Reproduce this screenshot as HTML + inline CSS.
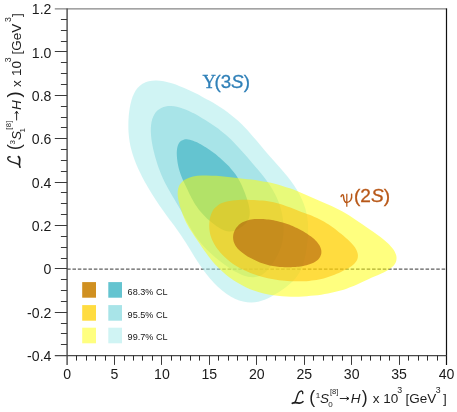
<!DOCTYPE html><html><head><meta charset="utf-8"><style>html,body{margin:0;padding:0;background:#fff}body{width:457px;height:412px;overflow:hidden}</style></head><body><svg width="457" height="412" viewBox="0 0 457 412" style="display:block;will-change:transform;font-family:'Liberation Sans',sans-serif">
<defs><filter id="ga" x="-5%" y="-5%" width="110%" height="110%" filterUnits="objectBoundingBox"><feOffset dx="0" dy="0"/></filter></defs>
<rect width="457" height="412" fill="#fff"/>
<line x1="67.10" y1="269.05" x2="446.50" y2="269.05" stroke="#5e5e5e" stroke-width="1.15" stroke-dasharray="3.55,1.8"/>
<path d="M171.45,222.07 C173.12,224.33 174.78,226.54 176.43,228.83 C178.07,231.13 179.69,233.41 181.32,235.83 C182.96,238.24 184.55,240.71 186.21,243.33 C187.88,245.95 189.53,248.69 191.30,251.54 C193.07,254.39 194.88,257.41 196.85,260.44 C198.82,263.46 200.89,266.64 203.11,269.70 C205.34,272.77 207.71,275.91 210.20,278.80 C212.69,281.69 215.34,284.55 218.04,287.06 C220.74,289.56 223.58,291.90 226.39,293.85 C229.20,295.80 232.10,297.46 234.90,298.75 C237.70,300.03 240.52,300.96 243.20,301.58 C245.89,302.20 248.52,302.45 251.01,302.47 C253.51,302.49 255.89,302.16 258.17,301.71 C260.44,301.25 262.58,300.52 264.64,299.74 C266.70,298.95 268.64,297.98 270.53,297.00 C272.42,296.02 274.22,294.93 275.99,293.85 C277.77,292.77 279.48,291.65 281.17,290.50 C282.86,289.35 284.52,288.20 286.13,286.97 C287.75,285.74 289.34,284.49 290.84,283.12 C292.34,281.74 293.81,280.31 295.14,278.72 C296.48,277.14 297.73,275.44 298.85,273.61 C299.96,271.77 300.95,269.79 301.81,267.71 C302.68,265.64 303.40,263.41 304.04,261.14 C304.68,258.86 305.18,256.48 305.65,254.06 C306.11,251.65 306.49,249.17 306.82,246.65 C307.16,244.14 307.46,241.59 307.68,238.97 C307.89,236.35 308.09,233.69 308.13,230.94 C308.16,228.18 308.15,225.35 307.89,222.43 C307.63,219.51 307.25,216.48 306.57,213.41 C305.89,210.33 304.99,207.14 303.82,203.98 C302.65,200.83 301.19,197.59 299.54,194.46 C297.89,191.33 295.94,188.19 293.92,185.20 C291.91,182.21 289.66,179.30 287.45,176.52 C285.24,173.74 282.91,171.09 280.67,168.52 C278.44,165.95 276.19,163.52 274.04,161.10 C271.90,158.68 269.82,156.36 267.79,154.02 C265.75,151.67 263.81,149.36 261.86,147.04 C259.90,144.71 258.01,142.37 256.05,140.06 C254.10,137.74 252.16,135.41 250.14,133.15 C248.12,130.89 246.07,128.64 243.96,126.49 C241.85,124.35 239.67,122.26 237.47,120.29 C235.26,118.31 233.00,116.43 230.72,114.65 C228.45,112.87 226.13,111.20 223.81,109.59 C221.49,107.99 219.14,106.49 216.79,105.03 C214.43,103.56 212.07,102.18 209.68,100.82 C207.30,99.47 204.90,98.16 202.47,96.88 C200.04,95.59 197.59,94.34 195.10,93.11 C192.61,91.89 190.09,90.68 187.53,89.53 C184.96,88.38 182.36,87.24 179.73,86.21 C177.10,85.18 174.41,84.18 171.75,83.36 C169.08,82.55 166.37,81.80 163.74,81.31 C161.11,80.83 158.46,80.48 155.96,80.46 C153.47,80.44 151.02,80.64 148.78,81.19 C146.55,81.73 144.43,82.58 142.55,83.72 C140.68,84.87 139.00,86.35 137.54,88.05 C136.08,89.75 134.86,91.78 133.82,93.92 C132.77,96.06 131.96,98.45 131.27,100.88 C130.57,103.32 130.07,105.91 129.65,108.51 C129.22,111.11 128.93,113.79 128.72,116.48 C128.50,119.18 128.38,121.90 128.36,124.66 C128.34,127.43 128.41,130.22 128.62,133.06 C128.83,135.90 129.15,138.78 129.64,141.70 C130.14,144.62 130.77,147.60 131.57,150.58 C132.37,153.56 133.34,156.59 134.43,159.58 C135.52,162.56 136.78,165.57 138.10,168.50 C139.42,171.43 140.87,174.34 142.34,177.17 C143.81,180.01 145.37,182.78 146.92,185.49 C148.48,188.20 150.07,190.85 151.67,193.43 C153.27,196.02 154.88,198.54 156.51,201.02 C158.13,203.49 159.78,205.91 161.43,208.28 C163.08,210.66 164.76,212.98 166.43,215.27 C168.10,217.57 169.79,219.81 171.45,222.07Z" fill="#a1e9e9" fill-opacity="0.5"/>
<path d="M182.54,213.58 C183.61,215.55 184.66,217.55 185.77,219.59 C186.88,221.63 188.00,223.73 189.21,225.83 C190.42,227.93 191.68,230.07 193.03,232.18 C194.39,234.28 195.82,236.39 197.33,238.43 C198.84,240.47 200.44,242.48 202.08,244.39 C203.73,246.31 205.46,248.16 207.22,249.94 C208.98,251.71 210.79,253.40 212.63,255.05 C214.47,256.69 216.35,258.26 218.26,259.80 C220.16,261.33 222.10,262.82 224.06,264.26 C226.02,265.69 228.02,267.09 230.03,268.39 C232.04,269.69 234.09,270.95 236.11,272.04 C238.14,273.12 240.20,274.13 242.20,274.90 C244.19,275.68 246.19,276.30 248.09,276.67 C249.98,277.05 251.84,277.20 253.57,277.13 C255.29,277.06 256.94,276.73 258.45,276.23 C259.97,275.74 261.37,274.99 262.67,274.15 C263.97,273.32 265.14,272.27 266.26,271.20 C267.37,270.13 268.38,268.92 269.35,267.71 C270.33,266.51 271.23,265.24 272.11,263.96 C272.99,262.69 273.83,261.39 274.64,260.07 C275.45,258.74 276.24,257.41 276.98,256.02 C277.71,254.62 278.42,253.21 279.06,251.72 C279.70,250.23 280.30,248.69 280.81,247.07 C281.32,245.45 281.77,243.77 282.14,242.02 C282.51,240.27 282.80,238.45 283.01,236.56 C283.22,234.68 283.36,232.73 283.41,230.73 C283.46,228.73 283.43,226.66 283.31,224.55 C283.19,222.43 282.99,220.26 282.66,218.04 C282.34,215.81 281.92,213.53 281.36,211.22 C280.80,208.91 280.13,206.54 279.31,204.17 C278.48,201.80 277.52,199.39 276.42,197.02 C275.33,194.65 274.08,192.26 272.75,189.94 C271.43,187.63 269.95,185.34 268.45,183.14 C266.95,180.94 265.34,178.81 263.75,176.75 C262.15,174.69 260.50,172.71 258.90,170.79 C257.29,168.86 255.68,167.02 254.10,165.20 C252.52,163.37 250.98,161.61 249.44,159.84 C247.91,158.08 246.41,156.34 244.89,154.60 C243.38,152.87 241.89,151.14 240.37,149.43 C238.84,147.73 237.31,146.03 235.75,144.38 C234.19,142.73 232.60,141.10 230.98,139.54 C229.37,137.98 227.72,136.46 226.05,135.02 C224.39,133.58 222.70,132.20 221.00,130.88 C219.30,129.56 217.58,128.30 215.85,127.08 C214.12,125.85 212.38,124.68 210.62,123.52 C208.86,122.36 207.09,121.23 205.29,120.11 C203.49,118.98 201.66,117.87 199.81,116.79 C197.96,115.71 196.07,114.62 194.16,113.62 C192.26,112.61 190.31,111.62 188.37,110.74 C186.43,109.87 184.45,109.04 182.51,108.38 C180.56,107.71 178.60,107.13 176.70,106.74 C174.80,106.35 172.91,106.09 171.12,106.03 C169.32,105.97 167.56,106.08 165.92,106.39 C164.29,106.70 162.72,107.20 161.29,107.90 C159.87,108.61 158.55,109.51 157.39,110.60 C156.23,111.69 155.20,112.98 154.34,114.44 C153.48,115.89 152.78,117.54 152.24,119.31 C151.70,121.08 151.32,123.03 151.09,125.05 C150.86,127.07 150.80,129.23 150.84,131.41 C150.88,133.59 151.07,135.87 151.34,138.14 C151.60,140.41 151.98,142.72 152.41,145.01 C152.84,147.29 153.35,149.59 153.90,151.85 C154.44,154.12 155.04,156.37 155.69,158.61 C156.33,160.84 157.02,163.05 157.76,165.25 C158.50,167.45 159.29,169.63 160.14,171.79 C161.00,173.96 161.91,176.11 162.88,178.22 C163.84,180.34 164.88,182.44 165.94,184.50 C167.01,186.56 168.14,188.59 169.26,190.58 C170.39,192.57 171.55,194.51 172.69,196.43 C173.83,198.36 174.97,200.24 176.08,202.13 C177.19,204.03 178.28,205.89 179.36,207.80 C180.44,209.70 181.48,211.61 182.54,213.58Z" fill="#80d4dc" fill-opacity="0.5"/>
<path d="M192.30,199.32 C192.92,200.45 193.55,201.60 194.23,202.73 C194.91,203.86 195.62,205.00 196.38,206.12 C197.14,207.23 197.93,208.34 198.76,209.41 C199.59,210.49 200.47,211.54 201.36,212.57 C202.25,213.59 203.18,214.58 204.12,215.55 C205.07,216.52 206.03,217.46 207.02,218.38 C208.00,219.30 209.01,220.20 210.02,221.07 C211.04,221.94 212.08,222.80 213.14,223.62 C214.19,224.44 215.26,225.25 216.34,225.99 C217.42,226.74 218.53,227.45 219.62,228.08 C220.72,228.71 221.83,229.29 222.91,229.76 C224.00,230.23 225.09,230.63 226.13,230.90 C227.18,231.18 228.21,231.36 229.19,231.43 C230.17,231.50 231.12,231.46 232.02,231.34 C232.91,231.22 233.76,230.99 234.58,230.72 C235.39,230.45 236.15,230.09 236.90,229.71 C237.64,229.34 238.34,228.91 239.04,228.48 C239.74,228.05 240.41,227.59 241.08,227.12 C241.74,226.65 242.40,226.18 243.05,225.67 C243.69,225.16 244.33,224.65 244.94,224.08 C245.54,223.50 246.14,222.91 246.67,222.23 C247.20,221.56 247.70,220.84 248.11,220.03 C248.52,219.22 248.88,218.34 249.14,217.38 C249.40,216.42 249.57,215.38 249.66,214.29 C249.74,213.20 249.72,212.03 249.64,210.84 C249.55,209.64 249.36,208.39 249.13,207.14 C248.90,205.89 248.58,204.60 248.25,203.33 C247.91,202.06 247.52,200.78 247.12,199.52 C246.72,198.26 246.29,197.01 245.85,195.77 C245.41,194.53 244.95,193.30 244.49,192.08 C244.02,190.86 243.54,189.65 243.04,188.44 C242.53,187.23 242.01,186.02 241.45,184.82 C240.89,183.62 240.31,182.43 239.68,181.25 C239.05,180.06 238.38,178.89 237.67,177.74 C236.97,176.59 236.22,175.46 235.44,174.36 C234.66,173.27 233.84,172.20 233.01,171.16 C232.18,170.13 231.32,169.13 230.45,168.16 C229.59,167.20 228.70,166.27 227.82,165.37 C226.94,164.46 226.05,163.59 225.16,162.74 C224.27,161.88 223.38,161.05 222.49,160.24 C221.59,159.42 220.70,158.63 219.80,157.84 C218.90,157.06 218.00,156.29 217.09,155.54 C216.18,154.78 215.26,154.04 214.33,153.32 C213.41,152.60 212.47,151.90 211.52,151.21 C210.58,150.52 209.62,149.85 208.65,149.20 C207.68,148.54 206.70,147.91 205.71,147.28 C204.71,146.65 203.70,146.04 202.67,145.44 C201.65,144.85 200.60,144.26 199.54,143.70 C198.48,143.14 197.40,142.59 196.31,142.09 C195.23,141.60 194.11,141.12 193.02,140.73 C191.93,140.35 190.81,140.00 189.74,139.77 C188.68,139.54 187.61,139.38 186.61,139.36 C185.61,139.34 184.63,139.43 183.75,139.65 C182.87,139.88 182.04,140.24 181.31,140.72 C180.59,141.20 179.95,141.83 179.40,142.55 C178.86,143.27 178.41,144.13 178.05,145.04 C177.68,145.95 177.42,146.98 177.22,148.03 C177.02,149.08 176.91,150.21 176.84,151.34 C176.78,152.47 176.78,153.65 176.82,154.81 C176.85,155.98 176.94,157.17 177.05,158.35 C177.17,159.53 177.32,160.71 177.50,161.90 C177.68,163.08 177.89,164.26 178.13,165.44 C178.38,166.62 178.66,167.80 178.97,168.98 C179.29,170.16 179.64,171.34 180.03,172.51 C180.42,173.68 180.84,174.85 181.29,176.01 C181.74,177.17 182.22,178.32 182.71,179.45 C183.20,180.59 183.72,181.71 184.24,182.82 C184.75,183.93 185.28,185.02 185.80,186.11 C186.33,187.21 186.85,188.28 187.37,189.37 C187.89,190.46 188.41,191.54 188.94,192.63 C189.48,193.73 190.00,194.83 190.57,195.95 C191.13,197.06 191.69,198.19 192.30,199.32Z" fill="#20a4b8" fill-opacity="0.5"/>
<path d="M296.97,191.08 C294.61,190.15 292.21,189.22 289.78,188.36 C287.34,187.49 284.86,186.66 282.36,185.90 C279.85,185.14 277.31,184.42 274.75,183.78 C272.19,183.14 269.60,182.56 267.01,182.04 C264.42,181.52 261.82,181.08 259.20,180.67 C256.58,180.26 253.97,179.93 251.31,179.60 C248.65,179.26 245.99,178.98 243.25,178.67 C240.51,178.37 237.74,178.07 234.85,177.75 C231.96,177.44 228.99,177.09 225.92,176.77 C222.85,176.46 219.63,176.10 216.42,175.87 C213.21,175.64 209.84,175.41 206.65,175.40 C203.45,175.40 200.17,175.48 197.24,175.86 C194.31,176.23 191.46,176.80 189.08,177.65 C186.70,178.50 184.59,179.63 182.94,180.95 C181.30,182.28 180.08,183.90 179.21,185.60 C178.34,187.30 177.95,189.24 177.74,191.17 C177.53,193.09 177.72,195.15 177.95,197.15 C178.19,199.15 178.67,201.19 179.16,203.16 C179.64,205.14 180.23,207.09 180.83,209.01 C181.44,210.92 182.09,212.80 182.80,214.65 C183.51,216.51 184.26,218.34 185.10,220.16 C185.94,221.97 186.85,223.77 187.83,225.55 C188.81,227.33 189.88,229.09 190.97,230.83 C192.06,232.57 193.22,234.29 194.36,236.00 C195.50,237.71 196.67,239.39 197.82,241.09 C198.98,242.79 200.12,244.47 201.29,246.18 C202.45,247.89 203.60,249.60 204.83,251.34 C206.06,253.08 207.31,254.83 208.67,256.60 C210.03,258.37 211.45,260.16 213.01,261.95 C214.57,263.74 216.22,265.54 218.01,267.33 C219.80,269.12 221.70,270.92 223.75,272.68 C225.79,274.44 227.97,276.20 230.28,277.88 C232.60,279.57 235.05,281.23 237.64,282.78 C240.22,284.33 242.96,285.83 245.78,287.16 C248.61,288.50 251.58,289.74 254.58,290.80 C257.57,291.86 260.69,292.78 263.76,293.54 C266.84,294.29 269.97,294.88 273.02,295.34 C276.07,295.81 279.12,296.11 282.07,296.33 C285.03,296.56 287.93,296.65 290.74,296.70 C293.56,296.75 296.31,296.71 298.99,296.64 C301.67,296.57 304.27,296.43 306.82,296.26 C309.36,296.08 311.84,295.86 314.26,295.60 C316.68,295.33 319.04,295.02 321.34,294.66 C323.64,294.31 325.88,293.91 328.07,293.48 C330.26,293.05 332.40,292.58 334.50,292.07 C336.60,291.57 338.65,291.04 340.66,290.46 C342.67,289.89 344.64,289.28 346.56,288.63 C348.48,287.97 350.35,287.28 352.18,286.54 C354.02,285.81 355.79,285.02 357.57,284.22 C359.35,283.42 361.07,282.58 362.88,281.74 C364.68,280.91 366.48,280.05 368.39,279.20 C370.31,278.34 372.31,277.50 374.38,276.61 C376.46,275.72 378.69,274.84 380.84,273.84 C382.98,272.84 385.29,271.82 387.27,270.61 C389.24,269.40 391.25,268.09 392.70,266.60 C394.16,265.10 395.40,263.43 396.00,261.64 C396.60,259.85 396.74,257.86 396.30,255.84 C395.87,253.82 394.81,251.65 393.41,249.55 C392.00,247.44 389.98,245.27 387.87,243.21 C385.77,241.16 383.22,239.13 380.77,237.21 C378.32,235.29 375.67,233.45 373.18,231.69 C370.69,229.93 368.20,228.26 365.83,226.64 C363.45,225.01 361.17,223.45 358.91,221.93 C356.64,220.41 354.47,218.93 352.24,217.50 C350.01,216.07 347.79,214.68 345.53,213.36 C343.26,212.03 340.95,210.76 338.63,209.55 C336.30,208.34 333.93,207.19 331.59,206.09 C329.24,204.98 326.88,203.94 324.55,202.91 C322.22,201.87 319.91,200.88 317.62,199.89 C315.32,198.89 313.07,197.90 310.79,196.92 C308.51,195.93 306.25,194.94 303.94,193.97 C301.64,192.99 299.33,192.01 296.97,191.08Z" fill="#ffff00" fill-opacity="0.5"/>
<path d="M289.69,207.28 C288.00,206.64 286.28,205.98 284.52,205.39 C282.76,204.79 280.96,204.20 279.13,203.69 C277.31,203.17 275.44,202.70 273.56,202.30 C271.69,201.90 269.79,201.57 267.89,201.28 C265.99,201.00 264.09,200.79 262.18,200.61 C260.27,200.42 258.36,200.29 256.43,200.18 C254.50,200.06 252.56,199.98 250.59,199.92 C248.63,199.86 246.64,199.82 244.64,199.82 C242.64,199.82 240.61,199.84 238.61,199.94 C236.60,200.04 234.57,200.18 232.63,200.43 C230.69,200.69 228.76,201.01 226.97,201.46 C225.19,201.91 223.47,202.46 221.93,203.12 C220.39,203.78 218.98,204.57 217.74,205.44 C216.51,206.31 215.45,207.29 214.53,208.33 C213.62,209.36 212.89,210.49 212.26,211.63 C211.64,212.78 211.17,213.99 210.78,215.19 C210.38,216.40 210.11,217.64 209.88,218.87 C209.65,220.11 209.51,221.35 209.41,222.60 C209.31,223.84 209.26,225.09 209.28,226.34 C209.30,227.60 209.37,228.86 209.52,230.12 C209.67,231.38 209.88,232.66 210.17,233.93 C210.47,235.21 210.85,236.49 211.31,237.77 C211.77,239.05 212.32,240.34 212.95,241.62 C213.58,242.90 214.30,244.18 215.08,245.45 C215.87,246.72 216.74,247.99 217.67,249.24 C218.61,250.49 219.61,251.73 220.69,252.96 C221.77,254.18 222.92,255.40 224.15,256.59 C225.37,257.78 226.67,258.95 228.04,260.09 C229.42,261.23 230.87,262.35 232.39,263.42 C233.91,264.49 235.51,265.52 237.17,266.51 C238.82,267.49 240.55,268.44 242.32,269.32 C244.08,270.21 245.91,271.05 247.75,271.83 C249.59,272.62 251.48,273.35 253.37,274.03 C255.26,274.71 257.19,275.34 259.10,275.92 C261.02,276.50 262.95,277.03 264.88,277.52 C266.81,278.00 268.74,278.44 270.66,278.83 C272.58,279.21 274.50,279.55 276.40,279.85 C278.30,280.14 280.20,280.38 282.07,280.58 C283.95,280.78 285.81,280.94 287.65,281.06 C289.49,281.18 291.32,281.26 293.12,281.31 C294.93,281.36 296.72,281.37 298.49,281.36 C300.26,281.34 302.02,281.30 303.77,281.23 C305.51,281.15 307.25,281.05 308.96,280.91 C310.67,280.77 312.37,280.59 314.04,280.37 C315.71,280.14 317.35,279.87 318.96,279.55 C320.56,279.24 322.13,278.87 323.66,278.46 C325.19,278.04 326.68,277.58 328.15,277.09 C329.61,276.60 331.03,276.06 332.46,275.50 C333.88,274.95 335.28,274.36 336.69,273.76 C338.11,273.16 339.53,272.54 340.95,271.88 C342.38,271.23 343.83,270.56 345.25,269.83 C346.66,269.10 348.10,268.35 349.43,267.51 C350.75,266.67 352.07,265.78 353.18,264.80 C354.29,263.82 355.33,262.76 356.08,261.62 C356.84,260.48 357.42,259.24 357.71,257.96 C357.99,256.68 358.03,255.31 357.79,253.93 C357.56,252.55 357.03,251.11 356.31,249.70 C355.60,248.30 354.59,246.87 353.51,245.49 C352.42,244.11 351.11,242.75 349.80,241.44 C348.48,240.13 347.04,238.86 345.64,237.64 C344.24,236.41 342.79,235.23 341.38,234.08 C339.97,232.93 338.58,231.82 337.18,230.73 C335.79,229.64 334.42,228.58 333.02,227.54 C331.61,226.50 330.21,225.49 328.74,224.52 C327.28,223.54 325.79,222.60 324.24,221.70 C322.70,220.81 321.10,219.96 319.47,219.15 C317.85,218.35 316.17,217.61 314.50,216.89 C312.84,216.18 311.14,215.52 309.47,214.87 C307.80,214.22 306.13,213.61 304.48,212.99 C302.83,212.37 301.20,211.76 299.57,211.13 C297.93,210.51 296.32,209.87 294.67,209.23 C293.03,208.58 291.39,207.92 289.69,207.28Z" fill="#ffb900" fill-opacity="0.5"/>
<path d="M281.81,222.26 C280.74,221.96 279.66,221.68 278.57,221.41 C277.49,221.15 276.39,220.90 275.28,220.68 C274.17,220.45 273.05,220.24 271.92,220.05 C270.79,219.86 269.65,219.69 268.51,219.54 C267.36,219.40 266.20,219.27 265.04,219.16 C263.88,219.06 262.71,218.98 261.54,218.94 C260.37,218.89 259.20,218.87 258.04,218.89 C256.88,218.91 255.71,218.97 254.58,219.06 C253.44,219.16 252.31,219.30 251.22,219.48 C250.13,219.67 249.07,219.90 248.05,220.17 C247.03,220.45 246.05,220.77 245.12,221.13 C244.20,221.49 243.32,221.91 242.50,222.35 C241.68,222.80 240.92,223.29 240.21,223.81 C239.51,224.33 238.86,224.88 238.27,225.46 C237.68,226.04 237.15,226.65 236.66,227.27 C236.18,227.90 235.75,228.55 235.36,229.21 C234.98,229.87 234.64,230.56 234.36,231.25 C234.07,231.94 233.83,232.65 233.63,233.37 C233.44,234.09 233.29,234.83 233.21,235.58 C233.12,236.32 233.08,237.08 233.10,237.84 C233.13,238.61 233.21,239.39 233.36,240.17 C233.52,240.95 233.74,241.74 234.03,242.53 C234.33,243.31 234.69,244.11 235.13,244.89 C235.56,245.67 236.08,246.45 236.65,247.21 C237.23,247.98 237.88,248.73 238.58,249.46 C239.28,250.20 240.06,250.91 240.86,251.61 C241.67,252.30 242.53,252.97 243.42,253.62 C244.31,254.27 245.24,254.89 246.19,255.49 C247.13,256.09 248.11,256.67 249.09,257.22 C250.08,257.78 251.09,258.31 252.10,258.82 C253.11,259.33 254.14,259.82 255.17,260.29 C256.20,260.77 257.25,261.22 258.30,261.65 C259.35,262.08 260.41,262.49 261.48,262.88 C262.55,263.26 263.63,263.63 264.72,263.97 C265.80,264.31 266.90,264.63 268.00,264.92 C269.10,265.20 270.21,265.46 271.32,265.70 C272.42,265.93 273.53,266.13 274.64,266.31 C275.75,266.48 276.85,266.62 277.95,266.74 C279.05,266.87 280.14,266.96 281.22,267.03 C282.31,267.10 283.39,267.14 284.46,267.17 C285.53,267.20 286.59,267.21 287.65,267.21 C288.71,267.20 289.76,267.18 290.82,267.14 C291.87,267.10 292.92,267.05 293.97,266.98 C295.02,266.92 296.07,266.84 297.13,266.74 C298.18,266.64 299.23,266.52 300.28,266.38 C301.33,266.24 302.38,266.08 303.41,265.88 C304.45,265.69 305.48,265.48 306.49,265.22 C307.50,264.97 308.50,264.69 309.46,264.36 C310.42,264.04 311.36,263.68 312.25,263.28 C313.13,262.89 313.99,262.45 314.78,261.97 C315.57,261.49 316.32,260.97 316.99,260.42 C317.66,259.86 318.28,259.26 318.81,258.64 C319.34,258.01 319.80,257.34 320.18,256.65 C320.55,255.96 320.84,255.23 321.04,254.49 C321.25,253.75 321.36,252.98 321.39,252.20 C321.41,251.42 321.34,250.62 321.19,249.82 C321.04,249.01 320.79,248.20 320.46,247.40 C320.14,246.59 319.73,245.78 319.25,244.99 C318.77,244.20 318.20,243.41 317.59,242.64 C316.97,241.87 316.28,241.12 315.56,240.39 C314.84,239.66 314.05,238.95 313.25,238.26 C312.44,237.57 311.59,236.91 310.73,236.27 C309.87,235.63 308.97,235.01 308.08,234.41 C307.18,233.81 306.26,233.24 305.35,232.68 C304.43,232.12 303.50,231.58 302.57,231.06 C301.64,230.53 300.71,230.03 299.77,229.53 C298.83,229.04 297.88,228.56 296.93,228.09 C295.97,227.63 295.01,227.18 294.04,226.74 C293.07,226.30 292.09,225.88 291.09,225.47 C290.10,225.06 289.09,224.67 288.07,224.29 C287.05,223.92 286.02,223.56 284.98,223.22 C283.93,222.88 282.88,222.56 281.81,222.26Z" fill="#a14400" fill-opacity="0.5"/>
<line x1="54.80" y1="8.85" x2="447.10" y2="8.85" stroke="#858585" stroke-width="1.2"/>
<line x1="446.50" y1="8.60" x2="446.50" y2="364.90" stroke="#111" stroke-width="1.2"/>
<line x1="67.10" y1="8.60" x2="67.10" y2="364.90" stroke="#4a4a4a" stroke-width="1.4"/>
<line x1="54.80" y1="355.60" x2="446.50" y2="355.60" stroke="#4a4a4a" stroke-width="1.4"/>
<g>
<text x="51.4" y="361.20" font-size="14.1" text-anchor="end" fill="#1a1a1a">-0.4</text>
<line x1="60.90" y1="344.50" x2="67.10" y2="344.50" stroke="#3a3a3a" stroke-width="1"/>
<line x1="60.90" y1="333.50" x2="67.10" y2="333.50" stroke="#3a3a3a" stroke-width="1"/>
<line x1="60.90" y1="323.50" x2="67.10" y2="323.50" stroke="#3a3a3a" stroke-width="1"/>
<line x1="54.80" y1="312.50" x2="67.10" y2="312.50" stroke="#3a3a3a" stroke-width="1"/>
<text x="51.4" y="317.83" font-size="14.1" text-anchor="end" fill="#1a1a1a">-0.2</text>
<line x1="60.90" y1="301.50" x2="67.10" y2="301.50" stroke="#3a3a3a" stroke-width="1"/>
<line x1="60.90" y1="290.50" x2="67.10" y2="290.50" stroke="#3a3a3a" stroke-width="1"/>
<line x1="60.90" y1="279.50" x2="67.10" y2="279.50" stroke="#3a3a3a" stroke-width="1"/>
<line x1="54.80" y1="268.50" x2="67.10" y2="268.50" stroke="#3a3a3a" stroke-width="1"/>
<text x="51.4" y="274.45" font-size="14.1" text-anchor="end" fill="#1a1a1a">0</text>
<line x1="60.90" y1="258.50" x2="67.10" y2="258.50" stroke="#3a3a3a" stroke-width="1"/>
<line x1="60.90" y1="247.50" x2="67.10" y2="247.50" stroke="#3a3a3a" stroke-width="1"/>
<line x1="60.90" y1="236.50" x2="67.10" y2="236.50" stroke="#3a3a3a" stroke-width="1"/>
<line x1="54.80" y1="225.50" x2="67.10" y2="225.50" stroke="#3a3a3a" stroke-width="1"/>
<text x="51.4" y="231.08" font-size="14.1" text-anchor="end" fill="#1a1a1a">0.2</text>
<line x1="60.90" y1="214.50" x2="67.10" y2="214.50" stroke="#3a3a3a" stroke-width="1"/>
<line x1="60.90" y1="203.50" x2="67.10" y2="203.50" stroke="#3a3a3a" stroke-width="1"/>
<line x1="60.90" y1="192.50" x2="67.10" y2="192.50" stroke="#3a3a3a" stroke-width="1"/>
<line x1="54.80" y1="182.50" x2="67.10" y2="182.50" stroke="#3a3a3a" stroke-width="1"/>
<text x="51.4" y="187.70" font-size="14.1" text-anchor="end" fill="#1a1a1a">0.4</text>
<line x1="60.90" y1="171.50" x2="67.10" y2="171.50" stroke="#3a3a3a" stroke-width="1"/>
<line x1="60.90" y1="160.50" x2="67.10" y2="160.50" stroke="#3a3a3a" stroke-width="1"/>
<line x1="60.90" y1="149.50" x2="67.10" y2="149.50" stroke="#3a3a3a" stroke-width="1"/>
<line x1="54.80" y1="138.50" x2="67.10" y2="138.50" stroke="#3a3a3a" stroke-width="1"/>
<text x="51.4" y="144.33" font-size="14.1" text-anchor="end" fill="#1a1a1a">0.6</text>
<line x1="60.90" y1="127.50" x2="67.10" y2="127.50" stroke="#3a3a3a" stroke-width="1"/>
<line x1="60.90" y1="117.50" x2="67.10" y2="117.50" stroke="#3a3a3a" stroke-width="1"/>
<line x1="60.90" y1="106.50" x2="67.10" y2="106.50" stroke="#3a3a3a" stroke-width="1"/>
<line x1="54.80" y1="95.50" x2="67.10" y2="95.50" stroke="#3a3a3a" stroke-width="1"/>
<text x="51.4" y="100.95" font-size="14.1" text-anchor="end" fill="#1a1a1a">0.8</text>
<line x1="60.90" y1="84.50" x2="67.10" y2="84.50" stroke="#3a3a3a" stroke-width="1"/>
<line x1="60.90" y1="73.50" x2="67.10" y2="73.50" stroke="#3a3a3a" stroke-width="1"/>
<line x1="60.90" y1="62.50" x2="67.10" y2="62.50" stroke="#3a3a3a" stroke-width="1"/>
<line x1="54.80" y1="51.50" x2="67.10" y2="51.50" stroke="#3a3a3a" stroke-width="1"/>
<text x="51.4" y="57.58" font-size="14.1" text-anchor="end" fill="#1a1a1a">1.0</text>
<line x1="60.90" y1="41.50" x2="67.10" y2="41.50" stroke="#3a3a3a" stroke-width="1"/>
<line x1="60.90" y1="30.50" x2="67.10" y2="30.50" stroke="#3a3a3a" stroke-width="1"/>
<line x1="60.90" y1="19.50" x2="67.10" y2="19.50" stroke="#3a3a3a" stroke-width="1"/>
<text x="51.4" y="14.20" font-size="14.1" text-anchor="end" fill="#1a1a1a">1.2</text>
<text x="67.10" y="379.1" font-size="14.1" text-anchor="middle" fill="#1a1a1a">0</text>
<line x1="76.50" y1="355.60" x2="76.50" y2="360.60" stroke="#2a2a2a" stroke-width="1"/>
<line x1="86.50" y1="355.60" x2="86.50" y2="360.60" stroke="#2a2a2a" stroke-width="1"/>
<line x1="95.50" y1="355.60" x2="95.50" y2="360.60" stroke="#2a2a2a" stroke-width="1"/>
<line x1="105.50" y1="355.60" x2="105.50" y2="360.60" stroke="#2a2a2a" stroke-width="1"/>
<line x1="114.50" y1="355.60" x2="114.50" y2="364.90" stroke="#3a3a3a" stroke-width="1"/>
<text x="114.52" y="379.1" font-size="14.1" text-anchor="middle" fill="#1a1a1a">5</text>
<line x1="124.50" y1="355.60" x2="124.50" y2="360.60" stroke="#2a2a2a" stroke-width="1"/>
<line x1="133.50" y1="355.60" x2="133.50" y2="360.60" stroke="#2a2a2a" stroke-width="1"/>
<line x1="142.50" y1="355.60" x2="142.50" y2="360.60" stroke="#2a2a2a" stroke-width="1"/>
<line x1="152.50" y1="355.60" x2="152.50" y2="360.60" stroke="#2a2a2a" stroke-width="1"/>
<line x1="161.50" y1="355.60" x2="161.50" y2="364.90" stroke="#3a3a3a" stroke-width="1"/>
<text x="161.95" y="379.1" font-size="14.1" text-anchor="middle" fill="#1a1a1a">10</text>
<line x1="171.50" y1="355.60" x2="171.50" y2="360.60" stroke="#2a2a2a" stroke-width="1"/>
<line x1="180.50" y1="355.60" x2="180.50" y2="360.60" stroke="#2a2a2a" stroke-width="1"/>
<line x1="190.50" y1="355.60" x2="190.50" y2="360.60" stroke="#2a2a2a" stroke-width="1"/>
<line x1="199.50" y1="355.60" x2="199.50" y2="360.60" stroke="#2a2a2a" stroke-width="1"/>
<line x1="209.50" y1="355.60" x2="209.50" y2="364.90" stroke="#3a3a3a" stroke-width="1"/>
<text x="209.38" y="379.1" font-size="14.1" text-anchor="middle" fill="#1a1a1a">15</text>
<line x1="218.50" y1="355.60" x2="218.50" y2="360.60" stroke="#2a2a2a" stroke-width="1"/>
<line x1="228.50" y1="355.60" x2="228.50" y2="360.60" stroke="#2a2a2a" stroke-width="1"/>
<line x1="237.50" y1="355.60" x2="237.50" y2="360.60" stroke="#2a2a2a" stroke-width="1"/>
<line x1="247.50" y1="355.60" x2="247.50" y2="360.60" stroke="#2a2a2a" stroke-width="1"/>
<line x1="256.50" y1="355.60" x2="256.50" y2="364.90" stroke="#3a3a3a" stroke-width="1"/>
<text x="256.80" y="379.1" font-size="14.1" text-anchor="middle" fill="#1a1a1a">20</text>
<line x1="266.50" y1="355.60" x2="266.50" y2="360.60" stroke="#2a2a2a" stroke-width="1"/>
<line x1="275.50" y1="355.60" x2="275.50" y2="360.60" stroke="#2a2a2a" stroke-width="1"/>
<line x1="285.50" y1="355.60" x2="285.50" y2="360.60" stroke="#2a2a2a" stroke-width="1"/>
<line x1="294.50" y1="355.60" x2="294.50" y2="360.60" stroke="#2a2a2a" stroke-width="1"/>
<line x1="304.50" y1="355.60" x2="304.50" y2="364.90" stroke="#3a3a3a" stroke-width="1"/>
<text x="304.23" y="379.1" font-size="14.1" text-anchor="middle" fill="#1a1a1a">25</text>
<line x1="313.50" y1="355.60" x2="313.50" y2="360.60" stroke="#2a2a2a" stroke-width="1"/>
<line x1="323.50" y1="355.60" x2="323.50" y2="360.60" stroke="#2a2a2a" stroke-width="1"/>
<line x1="332.50" y1="355.60" x2="332.50" y2="360.60" stroke="#2a2a2a" stroke-width="1"/>
<line x1="342.50" y1="355.60" x2="342.50" y2="360.60" stroke="#2a2a2a" stroke-width="1"/>
<line x1="351.50" y1="355.60" x2="351.50" y2="364.90" stroke="#3a3a3a" stroke-width="1"/>
<text x="351.65" y="379.1" font-size="14.1" text-anchor="middle" fill="#1a1a1a">30</text>
<line x1="361.50" y1="355.60" x2="361.50" y2="360.60" stroke="#2a2a2a" stroke-width="1"/>
<line x1="370.50" y1="355.60" x2="370.50" y2="360.60" stroke="#2a2a2a" stroke-width="1"/>
<line x1="380.50" y1="355.60" x2="380.50" y2="360.60" stroke="#2a2a2a" stroke-width="1"/>
<line x1="389.50" y1="355.60" x2="389.50" y2="360.60" stroke="#2a2a2a" stroke-width="1"/>
<line x1="399.50" y1="355.60" x2="399.50" y2="364.90" stroke="#3a3a3a" stroke-width="1"/>
<text x="399.08" y="379.1" font-size="14.1" text-anchor="middle" fill="#1a1a1a">35</text>
<line x1="408.50" y1="355.60" x2="408.50" y2="360.60" stroke="#2a2a2a" stroke-width="1"/>
<line x1="418.50" y1="355.60" x2="418.50" y2="360.60" stroke="#2a2a2a" stroke-width="1"/>
<line x1="427.50" y1="355.60" x2="427.50" y2="360.60" stroke="#2a2a2a" stroke-width="1"/>
<line x1="437.50" y1="355.60" x2="437.50" y2="360.60" stroke="#2a2a2a" stroke-width="1"/>
<text x="446.50" y="379.1" font-size="14.1" text-anchor="middle" fill="#1a1a1a">40</text>
<rect x="82.2" y="282.1" width="13.8" height="15.6" fill="#d09020"/>
<rect x="108.3" y="282.1" width="13.7" height="15.6" fill="#64c4d0"/>
<text x="127.6" y="294.7" font-size="9.1" fill="#161616">68.3% CL</text>
<rect x="82.2" y="305.1" width="13.8" height="15.6" fill="#ffdc40"/>
<rect x="108.3" y="305.1" width="13.7" height="15.6" fill="#a8e4e8"/>
<text x="127.6" y="317.7" font-size="9.1" fill="#161616">95.5% CL</text>
<rect x="82.2" y="327.7" width="13.8" height="15.6" fill="#ffff80"/>
<rect x="108.3" y="327.7" width="13.7" height="15.6" fill="#d0f4f4"/>
<text x="127.6" y="340.3" font-size="9.1" fill="#161616">99.7% CL</text>
<text y="88" font-size="18.8" fill="#3080b8" stroke="#3080b8" stroke-width="0.3"><tspan x="202.4" font-family="'Liberation Serif',serif" font-size="18.6">&#933;</tspan><tspan x="214.4">(3</tspan><tspan font-style="italic">S</tspan><tspan>)</tspan></text>
<path d="M341.1,196.6 C341.5,194.7 342.9,194.3 343.4,195.7 C344,197.6 343.2,202.3 346.8,202.5 C350.5,202.4 352.2,198.6 351.6,194.3" fill="none" stroke="#b85818" stroke-width="1.45" stroke-linecap="round"/><path d="M346.8,193.7 V206.7" fill="none" stroke="#b85818" stroke-width="1.25"/>
<text y="202.2" font-size="19.1" fill="#b85818" stroke="#b85818" stroke-width="0.3"><tspan x="353.9">(2</tspan><tspan font-style="italic">S</tspan><tspan>)</tspan></text>
<g transform="translate(291.3,403.3)"><path d="M11.3,-11.6 C11.7,-13.6 10.5,-14.5 9.2,-14.3 C7.4,-14 6.3,-12 5.6,-9.5 C4.8,-6.5 4.2,-3.6 2.6,-1.7" fill="none" stroke="#1e1e1e" stroke-width="1.45" stroke-linecap="round" transform="translate(1,0.9) scale(0.92)"/><path d="M0,-1 C2,-2.3 4,-1.8 6,-1.4 C8.5,-0.9 10.5,-1.3 11.6,-2.8" fill="none" stroke="#1e1e1e" stroke-width="1.8" stroke-linecap="round" transform="translate(1,0.9) scale(0.92)"/><text x="17.847" y="-0.7" font-size="17.7" fill="#1e1e1e">(</text><text x="24.5" y="-5.6" font-size="8" fill="#1e1e1e">1</text><text x="28.8" y="0" font-size="13.5" font-style="italic" fill="#1e1e1e">S</text><text x="37" y="4" font-size="8" fill="#1e1e1e">0</text><text x="38.6" y="-9.1" font-size="7.6" letter-spacing="0" fill="#1e1e1e">[8]</text><path d="M48.5,-4.8 H57.5 M55.2,-6.5 L57.7,-4.8 L55.2,-3.1" fill="none" stroke="#1e1e1e" stroke-width="0.95" transform="translate(0,0)"/><text x="59.5" y="0" font-size="13.5" font-style="italic" fill="#1e1e1e">H</text><text x="70.447" y="-0.7" font-size="17.7" fill="#1e1e1e">)</text><text x="81.4" y="0" font-size="13.5" fill="#1e1e1e">x</text><text x="91.9" y="0" font-size="13.5" fill="#1e1e1e">10</text><text x="105.9" y="-10.6" font-size="8.8" fill="#1e1e1e">3</text><text x="114.3" y="0" font-size="13.5" fill="#1e1e1e">[GeV</text><text x="144.5" y="-10.6" font-size="8.8" fill="#1e1e1e">3</text><text x="151.7" y="0" font-size="13.5" fill="#1e1e1e">]</text></g>
<g transform="translate(21.4,169.4) rotate(-90)"><path d="M11.3,-11.6 C11.7,-13.6 10.5,-14.5 9.2,-14.3 C7.4,-14 6.3,-12 5.6,-9.5 C4.8,-6.5 4.2,-3.6 2.6,-1.7" fill="none" stroke="#1e1e1e" stroke-width="1.45" stroke-linecap="round" transform="translate(2.2,-0.5) scale(0.92)"/><path d="M0,-1 C2,-2.3 4,-1.8 6,-1.4 C8.5,-0.9 10.5,-1.3 11.6,-2.8" fill="none" stroke="#1e1e1e" stroke-width="1.8" stroke-linecap="round" transform="translate(2.2,-0.5) scale(0.92)"/><text x="19.211" y="-1.5" font-size="18.5" fill="#1e1e1e">(</text><text x="24.8" y="-6.6" font-size="8" fill="#1e1e1e">3</text><text x="29.4" y="0" font-size="13.5" font-style="italic" fill="#1e1e1e">S</text><text x="36.9" y="4" font-size="8" fill="#1e1e1e">1</text><text x="39.6" y="-10.7" font-size="7.6" letter-spacing="0.4" fill="#1e1e1e">[8]</text><path d="M48.5,-4.8 H57.5 M55.2,-6.5 L57.7,-4.8 L55.2,-3.1" fill="none" stroke="#1e1e1e" stroke-width="0.95" transform="translate(0.5,0)"/><text x="59.5" y="0" font-size="13.5" font-style="italic" fill="#1e1e1e">H</text><text x="71.911" y="-1.5" font-size="18.5" fill="#1e1e1e">)</text><text x="82.3" y="0" font-size="13.5" fill="#1e1e1e">x</text><text x="93.5" y="0" font-size="13.5" fill="#1e1e1e">10</text><text x="107.1" y="-10.5" font-size="8.8" fill="#1e1e1e">3</text><text x="114.9" y="0" font-size="13.5" fill="#1e1e1e">[GeV</text><text x="147.4" y="-10.5" font-size="8.8" fill="#1e1e1e">3</text><text x="152.5" y="0" font-size="13.5" fill="#1e1e1e">]</text></g>
</g>
</svg></body></html>
